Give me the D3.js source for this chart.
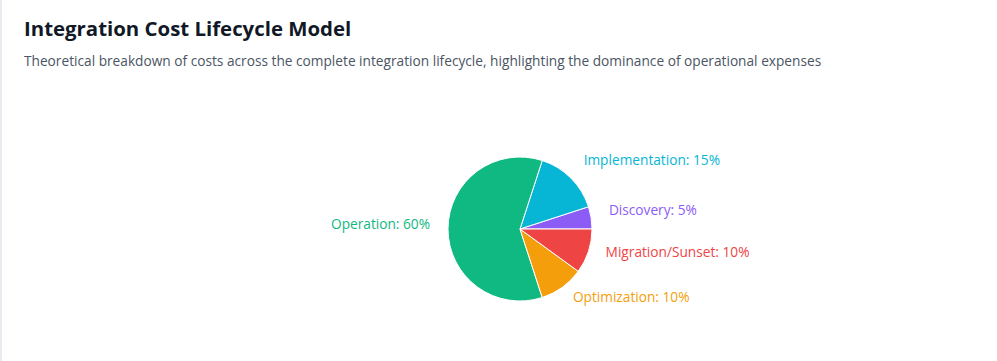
<!DOCTYPE html>
<html>
<head>
<meta charset="utf-8">
<script src="https://cdn.jsdelivr.net/npm/d3@7"></script>
<style>
  html, body { margin: 0; padding: 0; background: #fff; }
  body {
    width: 997px;
    height: 361px;
    overflow: hidden;
    font-family: "Open Sans", "Noto Sans", sans-serif;
    border-left: 2px solid #e8ebef;
    box-sizing: border-box;
  }
  #title {
    position: absolute;
    left: 24px;
    top: 14px;
    margin: 0;
    font-size: 20.4px;
    font-weight: 700;
    color: #111827;
  }
  #subtitle {
    position: absolute;
    left: 24px;
    top: 51px;
    margin: 0;
    font-size: 13.7px;
    color: #4b5563;
  }
  #chart { position: absolute; left: 0; top: 0; }
</style>
</head>
<body>
<h1 id="title">Integration Cost Lifecycle Model</h1>
<p id="subtitle">Theoretical breakdown of costs across the complete integration lifecycle, highlighting the dominance of operational expenses</p>
<svg id="chart" width="997" height="361"></svg>
<script>
// Slices in drawing order (counter-clockwise from 3 o'clock)
const phases = ["Discovery", "Implementation", "Operation", "Optimization", "Migration/Sunset"];
const shares = [5, 15, 60, 10, 10];
const colors = ["#8b5cf6", "#06b6d4", "#10b981", "#f59e0b", "#ef4444"];

const width = 997, height = 361;
const cx = 520, cy = 229;
const radius = 72;
const labelRadius = 90;

const data = phases.map((name, i) => ({ name, value: shares[i], color: colors[i] }));

const pie = d3
  .pie()
  .sort(null)
  .value((d) => d.value)
  .startAngle(Math.PI / 2)
  .endAngle(Math.PI / 2 - 2 * Math.PI);

const arc = d3.arc().innerRadius(0).outerRadius(radius);

const svg = d3.select("#chart");
const g = svg.append("g").attr("transform", `translate(${cx}, ${cy})`);

const arcs = pie(data);

g.selectAll("path")
  .data(arcs)
  .enter()
  .append("path")
  .attr("d", arc)
  .attr("fill", (d) => d.data.color)
  .attr("stroke", "#fff")
  .attr("stroke-width", 1);

// label position on a circle of labelRadius at the slice's mid angle
const midAngle = (d) => (d.startAngle + d.endAngle) / 2;

g.selectAll("text")
  .data(arcs)
  .enter()
  .append("text")
  .attr("x", (d) => labelRadius * Math.sin(midAngle(d)))
  .attr("y", (d) => -labelRadius * Math.cos(midAngle(d)))
  .attr("text-anchor", (d) => (Math.sin(midAngle(d)) < 0 ? "end" : "start"))
  .attr("fill", (d) => d.data.color)
  .attr("font-size", 13.7)
  .text((d) => `${d.data.name}: ${d.data.value}%`);
</script>
</body>
</html>
